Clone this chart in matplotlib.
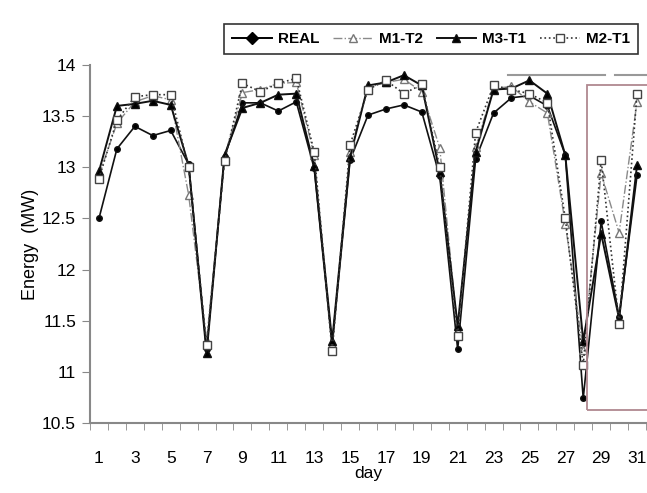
import matplotlib.pyplot as plt
import numpy as np
from matplotlib.lines import Line2D
from matplotlib.patches import Rectangle

plt.rcParams['font.family'] = ['Liberation Sans', 'DejaVu Sans']

days = np.arange(1, 32)
xtick_days = list(range(1, 32, 2))

real = [12.50, 13.18, 13.40, 13.31, 13.36, 13.03, 11.22, 13.10, 13.63, 13.63, 13.55, 13.64,
        12.99, 11.25, 13.07, 13.51, 13.57, 13.61, 13.54, 12.91, 11.22, 13.08, 13.53, 13.68,
        13.70, 13.60, 13.12, 10.74, 12.47, 11.54, 12.92]
m1_t2 = [12.92, 13.43, 13.64, 13.70, 13.66, 12.73, 11.30, 13.10, 13.73, 13.76, 13.82, 13.83,
         13.12, 11.27, 13.15, 13.78, 13.83, 13.86, 13.74, 13.19, 11.40, 13.20, 13.77, 13.79,
         13.64, 13.53, 12.45, 11.21, 12.94, 12.36, 13.64]
m3_t1 = [12.96, 13.60, 13.62, 13.65, 13.61, 13.02, 11.18, 13.12, 13.58, 13.63, 13.71, 13.72,
         13.01, 11.30, 13.10, 13.80, 13.83, 13.90, 13.80, 12.95, 11.45, 13.15, 13.76, 13.77,
         13.85, 13.72, 13.12, 11.30, 12.35, 11.52, 13.02]
m2_t1 = [12.89, 13.46, 13.69, 13.71, 13.71, 13.00, 11.26, 13.06, 13.82, 13.74, 13.82, 13.87,
         13.15, 11.20, 13.22, 13.76, 13.85, 13.72, 13.81, 13.00, 11.35, 13.34, 13.80, 13.76,
         13.72, 13.63, 12.50, 11.07, 13.07, 11.47, 13.72]

W, H = 647, 493
fig = plt.figure(figsize=(W / 100, H / 100), dpi=100)
ax = fig.add_axes([90 / W, (H - 423) / H, 556 / W, (423 - 65) / H])

axis_gray = '#888888'

l1, = ax.plot(days, real, '-', color='#111111', lw=1.2, marker='o', ms=4,
              markerfacecolor='black', label='REAL')
l2, = ax.plot(days, m1_t2, '-.', color='#8a8a8a', lw=1.0, marker='^', ms=6,
              markerfacecolor='white', markeredgecolor='#777777', label='M1-T2')
l3, = ax.plot(days, m3_t1, '-', color='#111111', lw=1.4, marker='^', ms=6,
              markerfacecolor='black', label='M3-T1')
l4, = ax.plot(days, m2_t1, ':', color='#333333', lw=1.2, marker='s', ms=6,
              markerfacecolor='white', markeredgecolor='#444444', label='M2-T1')

ax.set_xlim(0.5, 31.5)
ax.set_ylim(10.5, 14)
ax.set_yticks([10.5, 11, 11.5, 12, 12.5, 13, 13.5, 14])
ax.set_yticklabels(['10.5', '11', '11.5', '12', '12.5', '13', '13.5', '14'])
ax.set_xticks(xtick_days)
ax.set_xticks(np.arange(0.5, 32, 1), minor=True)
ax.tick_params(axis='x', which='major', length=0, pad=20, labelsize=12.5)
ax.tick_params(axis='x', which='minor', length=5, color=axis_gray, direction='out')
ax.tick_params(axis='y', which='major', length=6, color=axis_gray, labelsize=12.5, pad=4)

for s in ['top', 'right']:
    ax.spines[s].set_visible(False)
for s in ['left', 'bottom']:
    ax.spines[s].set_color(axis_gray)
    ax.spines[s].set_linewidth(1.5)

ax.set_ylabel('Energy  (MW)', fontsize=13, labelpad=2)
ax.set_xlabel('day', fontsize=12.5, labelpad=0)

# extra marks present on the original picture
fig.add_artist(Line2D([508 / W, 605 / W], [1 - 75 / H, 1 - 75 / H], color='#999999', lw=1.5))
fig.add_artist(Line2D([615 / W, 647 / W], [1 - 75 / H, 1 - 75 / H], color='#999999', lw=1.5))
fig.add_artist(Rectangle((587 / W, 1 - 410 / H), 70 / W, 325 / H, fill=False,
                         edgecolor='#b08890', lw=1.3))

# legend shows REAL with a diamond marker
real_handle = Line2D([], [], color='black', lw=1.4, marker='D', ms=6,
                     markerfacecolor='black')
leg = fig.legend(handles=[real_handle, l2, l3, l4], labels=['REAL', 'M1-T2', 'M3-T1', 'M2-T1'],
                 loc='upper right', ncol=4,
                 bbox_to_anchor=(646 / W, 1 - 16 / H), frameon=True, fancybox=False,
                 prop={'weight': 'bold', 'size': 11}, handlelength=2.6, handletextpad=0.4,
                 columnspacing=0.9, borderpad=0.55)
leg.get_frame().set_edgecolor('black')
leg.get_frame().set_linewidth(1.2)

fig.savefig('out.png', dpi=100)
